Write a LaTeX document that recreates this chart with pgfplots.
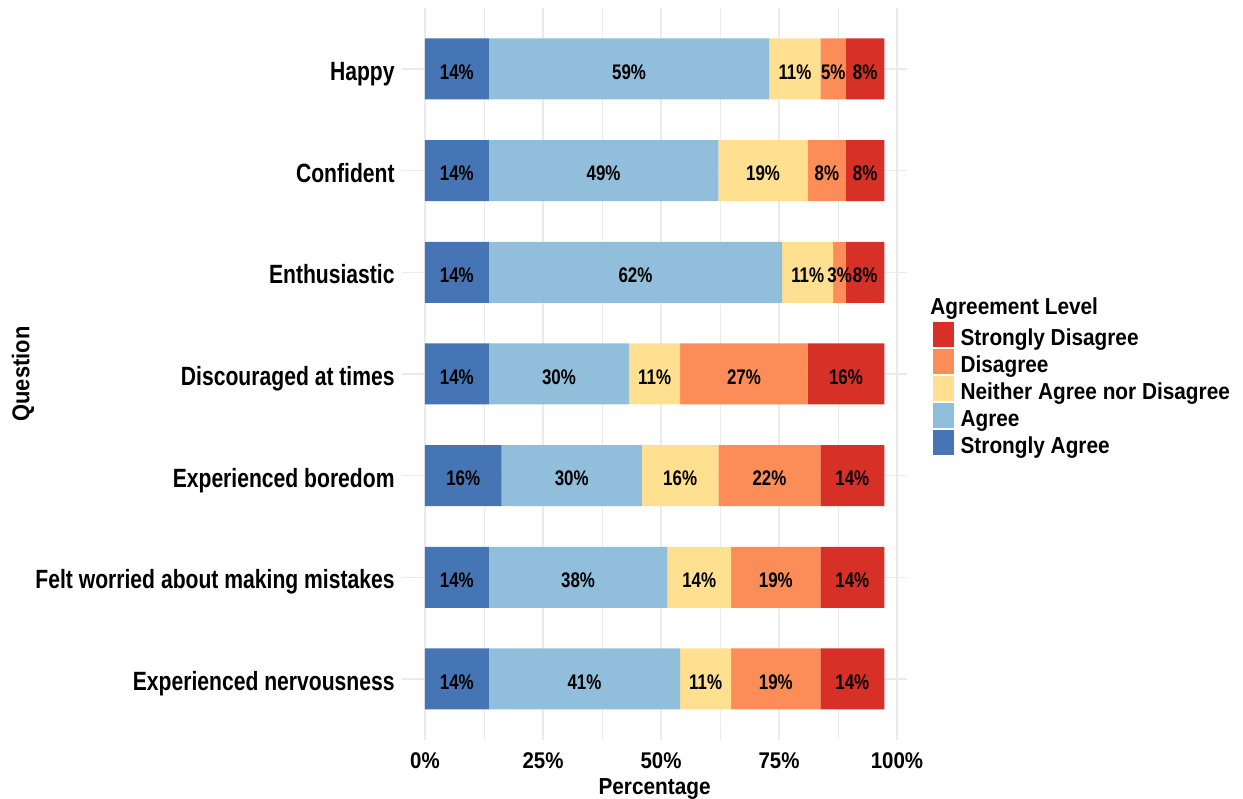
\documentclass[border=0pt]{standalone}
\usepackage{pgfplots}
\pgfplotsset{compat=1.18}
\usepackage{pgfplotstable}
\usepackage{fontspec}
\setmainfont[FakeStretch=0.8]{Liberation Sans}
\newfontfamily\widefont[FakeStretch=0.9]{Liberation Sans}

\definecolor{sdis}{HTML}{D73027}
\definecolor{dis}{HTML}{FC8D59}
\definecolor{neu}{HTML}{FEE090}
\definecolor{agr}{HTML}{91BFDB}
\definecolor{sagr}{HTML}{4575B4}
\definecolor{gridc}{HTML}{EBEBEB}

% Share of 37 respondents (%) per agreement level; q = row from the bottom
\pgfplotstableread{
q sa      a       n       d       sd
1 13.5135 40.5405 10.8108 18.9189 13.5135
2 13.5135 37.8378 13.5135 18.9189 13.5135
3 16.2162 29.7297 16.2162 21.6216 13.5135
4 13.5135 29.7297 10.8108 27.0270 16.2162
5 13.5135 62.1622 10.8108  2.7027  8.1081
6 13.5135 48.6486 18.9189  8.1081  8.1081
7 13.5135 59.4595 10.8108  5.4054  8.1081
}\responses

\begin{document}
\begin{tikzpicture}
\begin{axis}[
  at={(201bp,29.5bp)}, anchor=south west,
  scale only axis, width=252.6bp, height=366bp,
  xbar stacked, bar width=0.6,
  xmin=-4.865, xmax=102.16, ymin=0.4, ymax=7.6,
  clip=false,
  axis line style={draw=none},
  major tick length=0pt, minor tick length=0pt,
  xtick={0,25,50,75,100},
  xticklabels={0\%,25\%,50\%,75\%,100\%},
  minor xtick={12.5,37.5,62.5,87.5},
  ytick={1,...,7},
  yticklabels={Experienced nervousness,Felt worried about making mistakes,Experienced boredom,Discouraged at times,Enthusiastic,Confident,Happy},
  xmajorgrids, xminorgrids, ymajorgrids,
  major grid style={gridc, line width=0.55bp},
  minor grid style={gridc, line width=0.4bp},
  yticklabel style={font=\fontsize{13.25}{15}\selectfont\bfseries, inner sep=0pt, xshift=-3.5bp, text=black, text height=11.5bp, text depth=0pt},
  xticklabel style={font=\widefont\fontsize{11.4}{13}\selectfont\bfseries, inner sep=0pt, yshift=-6bp, text=black},
  xlabel={Percentage},
  xlabel style={font=\widefont\fontsize{11.6}{13}\selectfont\bfseries, at={(axis description cs:0.5,0)}, anchor=base, yshift=-27.5bp},
  ylabel={Question},
  ylabel style={font=\widefont\fontsize{12.2}{14}\selectfont\bfseries, at={(axis description cs:0,0.5)}, anchor=center, yshift=189.5bp},
  point meta=explicit,
  nodes near coords={\pgfmathprintnumber[fixed,precision=0,assume math mode=true]{\pgfplotspointmeta}\%},
  every node near coord/.append style={font=\fontsize{10.6}{12}\selectfont\bfseries, text=black, anchor=center, inner sep=0pt, yshift=-1.4bp},
  legend style={at={(axis description cs:1.0495,0.571)}, anchor=north west, draw=none, fill=none,
    font=\widefont\fontsize{11.6}{13}\selectfont\bfseries, row sep=1bp, column sep=3.5bp,
    inner sep=0pt, cells={anchor=west}, nodes={inner sep=0pt, text height=10.5bp, text depth=0pt}},
  legend image code/.code={\fill[#1,draw=none] (0bp,-6.25bp) rectangle (10.5bp,6.25bp);},
  reverse legend,
]
\addplot[fill=sagr, draw=none] table[x=sa, y=q, meta=sa] {\responses};
\addlegendentry{Strongly Agree}
\addplot[fill=agr, draw=none] table[x=a, y=q, meta=a] {\responses};
\addlegendentry{Agree}
\addplot[fill=neu, draw=none] table[x=n, y=q, meta=n] {\responses};
\addlegendentry{Neither Agree nor Disagree}
\addplot[fill=dis, draw=none] table[x=d, y=q, meta=d] {\responses};
\addlegendentry{Disagree}
\addplot[fill=sdis, draw=none] table[x=sd, y=q, meta=sd] {\responses};
\addlegendentry{Strongly Disagree}
\node[anchor=base west, inner sep=0pt, font=\widefont\fontsize{11.6}{13}\selectfont\bfseries] at (axis description cs:1.0451,0.5806) {Agreement Level};
\end{axis}
\pgfresetboundingbox
\path[use as bounding box] (0,0) rectangle (621.5bp,399.5bp);
\end{tikzpicture}
\end{document}
